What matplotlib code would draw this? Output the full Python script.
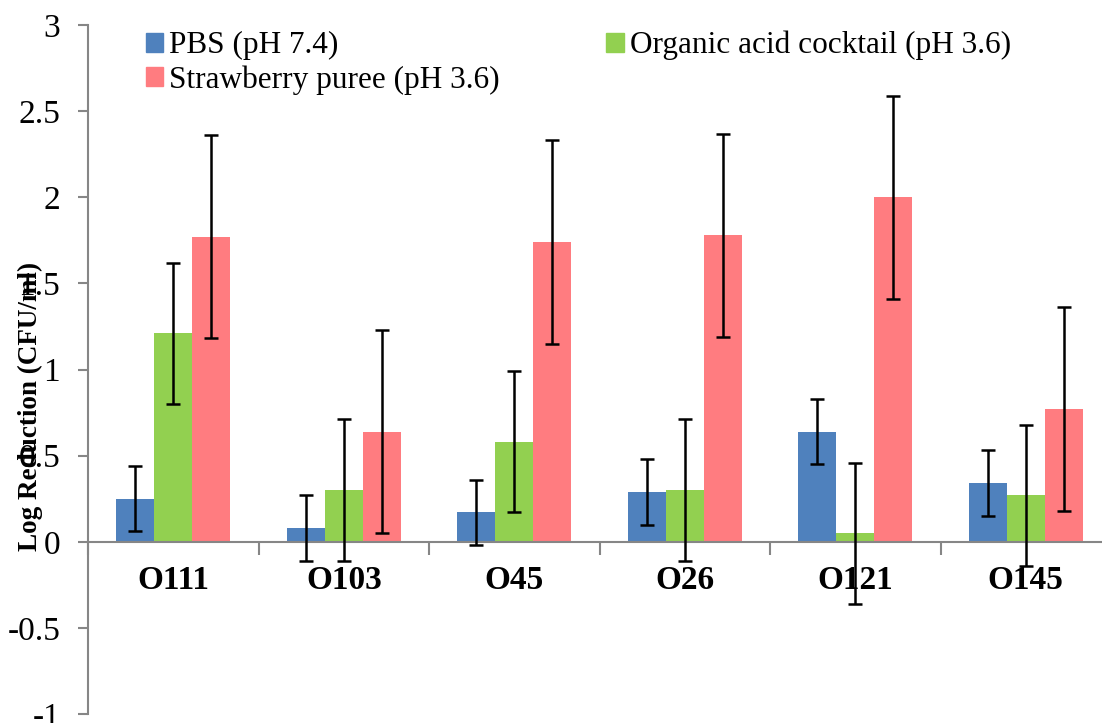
import numpy as np
import matplotlib
matplotlib.use('Agg')
import matplotlib.pyplot as plt
from matplotlib.patches import Patch

plt.rcParams['font.family'] = ['Liberation Serif', 'DejaVu Serif']

# data
strains = ['O111', 'O103', 'O45', 'O26', 'O121', 'O145']
series = ['PBS (pH 7.4)', 'Organic acid cocktail (pH 3.6)', 'Strawberry puree (pH 3.6)']
pbs = [0.25, 0.08, 0.17, 0.29, 0.64, 0.34]
pbs_err = [0.19, 0.19, 0.19, 0.19, 0.19, 0.19]
acid = [1.21, 0.30, 0.58, 0.30, 0.05, 0.27]
acid_err = [0.41, 0.41, 0.41, 0.41, 0.41, 0.41]
straw = [1.77, 0.64, 1.74, 1.78, 2.00, 0.77]
straw_err = [0.59, 0.59, 0.59, 0.59, 0.59, 0.59]

colors = ['#4F81BD', '#92D050', '#FF7C80']
axis_grey = '#868686'

W, H = 1102, 723
fig = plt.figure(figsize=(W / 100, H / 100), dpi=100)
ax = fig.add_axes([88 / W, 9 / H, (1111 - 88) / W, (714 - 25) / H])

x = np.arange(len(strains))
bw = 0.223
for i, (vals, errs) in enumerate([(pbs, pbs_err), (acid, acid_err), (straw, straw_err)]):
    ax.bar(x + (i - 1) * bw, vals, width=bw, color=colors[i], zorder=2)
    ax.errorbar(x + (i - 1) * bw, vals, yerr=errs, fmt='none', ecolor='black',
                elinewidth=1.8, capsize=5, capthick=1.8, zorder=3)

ax.set_xlim(-0.5, len(strains) - 0.5)
ax.set_ylim(-1, 3)
ax.set_yticks(np.arange(-1, 3.01, 0.5))
ax.set_yticklabels(['-1', '-0.5', '0', '0.5', '1', '1.5', '2', '2.5', '3'])

for s in ['top', 'right']:
    ax.spines[s].set_visible(False)
ax.spines['bottom'].set_position(('data', 0))
for s in ['left', 'bottom']:
    ax.spines[s].set_color(axis_grey)
    ax.spines[s].set_linewidth(1.5)

ax.set_xticks(x)
ax.set_xticklabels(strains, fontsize=24, fontweight='bold')
ax.set_xticks(np.arange(-0.5, len(strains), 1.0), minor=True)
ax.tick_params(axis='x', which='major', length=0, pad=17)
ax.tick_params(axis='x', which='minor', length=9, width=1.5, color=axis_grey, direction='out')
ax.tick_params(axis='y', length=7, width=1.5, color=axis_grey, labelsize=24, pad=13)

fig.text(30 / W, 1 - 406 / H, 'Log Reduction (CFU/ml)', rotation=90, fontsize=19.5,
         fontweight='bold', ha='center', va='center')

handles = [Patch(color=colors[0]), Patch(color=colors[2]), Patch(color=colors[1])]
labels = [series[0], series[2], series[1]]
fig.legend(handles, labels, loc='upper left', bbox_to_anchor=(146 / W, 1 - 31 / H),
           ncol=2, frameon=False, fontsize=22.5, handlelength=0.55, handleheight=0.55,
           handletextpad=0.2, columnspacing=3.4, labelspacing=0.15, borderaxespad=0,
           borderpad=0)

fig.savefig('out.png', dpi=100)
